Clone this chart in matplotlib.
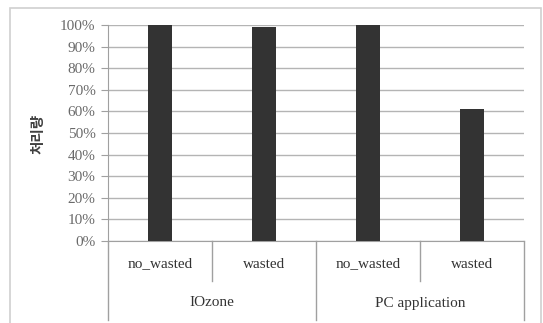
import matplotlib.pyplot as plt
from matplotlib.patches import Rectangle

# Data
groups = ['IOzone', 'PC application']
subcats = ['no_wasted', 'wasted', 'no_wasted', 'wasted']
values = [100, 99, 100, 61]
yticks = list(range(0, 101, 10))
ytick_labels = ['%d%%' % v for v in yticks]

fig = plt.figure(figsize=(5.43, 3.23), dpi=100)
fig.patch.set_facecolor('white')

# outer chart border
fig.add_artist(Rectangle((10 / 543, -0.02), 531 / 543, 1 - 8 / 323 + 0.02,
                         transform=fig.transFigure, fill=False,
                         edgecolor='#d0d0d0', linewidth=1.2))

ax = fig.add_axes([108 / 543, 1 - 241 / 323, 416 / 543, 216 / 323])

x = list(range(len(values)))
ax.bar(x, values, width=0.24, color='#333333', zorder=3)

ax.set_xlim(-0.5, 3.5)
ax.set_ylim(0, 100)
ax.set_yticks(yticks)
ax.set_yticklabels(ytick_labels, fontfamily='Liberation Serif', fontsize=11, color='#6a6a6a')
ax.tick_params(axis='y', length=5, color='#a0a0a0', pad=4)
ax.set_xticks([])

ax.grid(axis='y', color='#b4b4b4', linewidth=1, zorder=0)
for s in ['top', 'right']:
    ax.spines[s].set_visible(False)
ax.spines['left'].set_color('#a0a0a0')
ax.spines['bottom'].set_color('#a0a0a0')

# category axis dividers
ah = 216.0
short_y = -(281 - 241) / ah
long_y = -(320 - 241) / ah
for xb in [-0.5, 1.5, 3.5]:
    ax.plot([xb, xb], [0, long_y], color='#a0a0a0', linewidth=1,
            transform=ax.get_xaxis_transform(), clip_on=False)
for xb in [0.5, 2.5]:
    ax.plot([xb, xb], [0, short_y], color='#a0a0a0', linewidth=1,
            transform=ax.get_xaxis_transform(), clip_on=False)

for i, lab in enumerate(subcats):
    ax.text(i, -(264 - 241) / ah, lab, transform=ax.get_xaxis_transform(),
            ha='center', va='center', fontfamily='Liberation Serif',
            fontsize=11, color='#333333')
for i, g in enumerate(groups):
    ax.text(2 * i + 0.5, -(303 - 241) / ah, g, transform=ax.get_xaxis_transform(),
            ha='center', va='center', fontfamily='Liberation Serif',
            fontsize=11, color='#333333')

fig.text(37 / 543, 1 - 134 / 323, '처리량', rotation=90, ha='center', va='center',
         fontfamily='Noto Sans CJK KR', fontweight='bold', fontsize=10.5, color='#404040')

fig.savefig('out.png', dpi=100)
